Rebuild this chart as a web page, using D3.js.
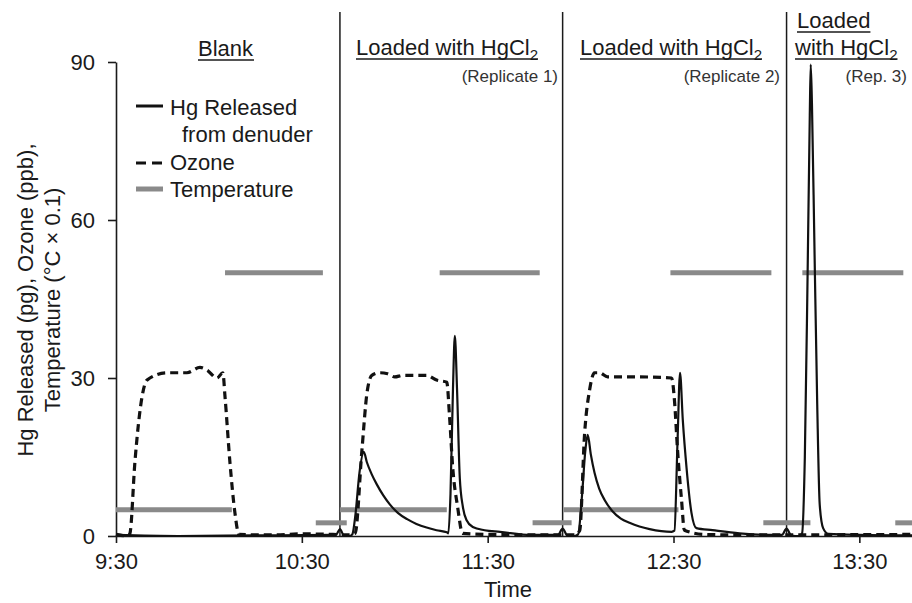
<!DOCTYPE html>
<html>
<head>
<meta charset="utf-8">
<script src="https://cdn.jsdelivr.net/npm/d3@7"></script>
<style>
  body { margin: 0; background: #fff; }
  svg text { font-family: "Liberation Sans", Arial, sans-serif; fill: #1a1a1a; }
</style>
</head>
<body>
<svg id="chart" width="912" height="603"></svg>
<script>
// время в минутах после 9:30
const hgSeries = [
    [0, 0.2], [20, 0], [45, 0.1], [70, 0.2], [71, 0.2], [72.3, 1.3], [73.6, 0.1], [75.5, 0],
    [76.3, 0.3], [77.3, 4], [78.6, 12], [80, 16], [81, 14], [82.5, 11.8], [84.2, 9.8],
    [86.3, 7.7], [88.4, 6], [91, 4.4], [94, 3.2], [97, 2.3], [100.3, 1.6], [103.5, 1.1],
    [106.8, 0.7], [107.3, 0.5], [108, 8], [108.8, 28], [109.4, 38], [110.1, 28], [111, 11],
    [112, 5.5], [113.2, 3], [115.2, 1.7], [119, 1.1], [124, 0.8], [134, 0.2], [142.7, 0.2],
    [144.2, 1.4], [145.7, 0.1], [148, 0], [149.2, 0.3], [150.5, 8], [151.5, 16], [152.3, 19.2],
    [153.3, 15.5], [154.5, 12], [156, 9], [157.8, 6.8], [160.3, 4.7], [163, 3.3], [165.8, 2.5],
    [169, 1.8], [172.3, 1.3], [179.4, 0.8], [180.3, 1], [181.3, 18], [182.1, 31], [183, 22],
    [184.2, 13], [185.8, 4.4], [187.4, 1.5], [192.6, 1.1], [201.3, 0.5], [211.9, 0.2],
    [215, 0.2], [216.5, 1.4], [218, 0.1], [220.5, 0], [221.5, 0.5], [222.4, 15], [223.3, 50],
    [224, 80], [224.3, 89.5], [224.7, 82], [225.5, 55], [226.4, 25], [227.2, 6], [228.3, 1.5],
    [230, 0.4], [240, 0.2], [257, 0.1]
];

const ozoneSeries = [
    [0, 0.3], [3.8, 0], [4.5, 0.5], [6.1, 14], [8.4, 26.4], [10, 29.6], [16.5, 31], [22.9, 31],
    [27.1, 32], [29.4, 31.5], [32.6, 30], [34.5, 31], [35.2, 26.4], [36.8, 13.9], [38.4, 4.4],
    [39.7, 0.3], [50, 0.2], [60, 0.4], [70, 0.3], [75, 0.2], [77.2, 0.5], [79.4, 16.3],
    [81, 27], [82.6, 30.5], [85.2, 31], [87.7, 30.8], [90, 30.2], [92.6, 30.5], [100.3, 30.5],
    [103.5, 29.6], [106.8, 29.2], [107.7, 22.6], [108.7, 13.1], [110.3, 5.5], [111.9, 0.5],
    [120, 0.3], [135, 0.2], [148, 0.2], [149.7, 1], [151.3, 19.5], [152.9, 27.7], [154.5, 31],
    [156.1, 31], [158.7, 30.2], [163.5, 30.2], [169, 30.2], [179.4, 30], [180.3, 25.8],
    [181.3, 16.3], [182.6, 6.8], [183.5, 1.1], [190, 0.3], [200, 0.2], [257, 0.3]
];

// отрезки температуры: начало, конец, значение
const tempSegments = [
    [0, 37.4, 5], [35.2, 66.8, 50], [64.5, 74.5, 2.5],
    [72.3, 106.8, 5], [104.5, 136.8, 50], [134.5, 147.1, 2.5],
    [144.5, 181.6, 5], [179, 211.6, 50], [209, 224.2, 2.5],
    [221.6, 254.2, 50], [251.6, 257, 2.5]
];

const dividers = [72.3, 144.2, 216.5];
const xTickLabels = ["9:30", "10:30", "11:30", "12:30", "13:30"];
const yTicks = [0, 30, 60, 90];

const svg = d3.select("#chart");
const start = new Date(2000, 0, 1, 9, 30);
const toDate = m => new Date(start.getTime() + m * 60000);
const parseClock = d3.timeParse("%H:%M");
const clockDate = s => { const t = parseClock(s); return new Date(2000, 0, 1, t.getHours(), t.getMinutes()); };

const x = d3.scaleTime().domain([start, toDate(257)]).range([116, 912]);
const y = d3.scaleLinear().domain([0, 90]).range([536, 62]);

// оси
const xAxis = svg.append("g")
    .attr("transform", "translate(0,536)")
    .call(d3.axisBottom(x)
        .tickValues(xTickLabels.map(clockDate))
        .tickFormat(d3.timeFormat("%-H:%M"))
        .tickSize(7).tickSizeOuter(0).tickPadding(10));
xAxis.selectAll("text").style("font-size", "22px").attr("dy", "0.71em");

const yAxis = svg.append("g")
    .attr("transform", "translate(116,0)")
    .call(d3.axisLeft(y).tickValues(yTicks).tickSize(8).tickSizeOuter(0).tickPadding(13));
yAxis.selectAll("text").style("font-size", "22px");
svg.selectAll(".domain, .tick line").attr("stroke", "#1a1a1a").attr("stroke-width", 1.6);

// разделители между опытами
svg.append("g").selectAll("line")
    .data(dividers)
    .enter().append("line")
    .attr("x1", d => x(toDate(d))).attr("x2", d => x(toDate(d)))
    .attr("y1", 12).attr("y2", 536)
    .attr("stroke", "#1a1a1a").attr("stroke-width", 1.5);

// температура
svg.append("g").selectAll("line")
    .data(tempSegments)
    .enter().append("line")
    .attr("x1", d => x(toDate(d[0]))).attr("x2", d => x(toDate(d[1])))
    .attr("y1", d => y(d[2])).attr("y2", d => y(d[2]))
    .attr("stroke", "#8a8a8a").attr("stroke-width", 5);

const line = d3.line().x(d => x(toDate(d[0]))).y(d => y(d[1])).curve(d3.curveMonotoneX);

svg.append("path")
    .datum(ozoneSeries)
    .attr("d", line)
    .attr("fill", "none").attr("stroke", "#111")
    .attr("stroke-width", 3.2).attr("stroke-dasharray", "8,5");

svg.append("path")
    .datum(hgSeries)
    .attr("d", line)
    .attr("fill", "none").attr("stroke", "#111")
    .attr("stroke-width", 2.2);

// легенда
const legend = svg.append("g");
legend.append("line").attr("x1", 136).attr("x2", 163).attr("y1", 106).attr("y2", 106)
    .attr("stroke", "#111").attr("stroke-width", 3);
legend.append("line").attr("x1", 136).attr("x2", 163).attr("y1", 163).attr("y2", 163)
    .attr("stroke", "#111").attr("stroke-width", 3).attr("stroke-dasharray", "10,6");
legend.append("line").attr("x1", 136).attr("x2", 163).attr("y1", 189).attr("y2", 189)
    .attr("stroke", "#8a8a8a").attr("stroke-width", 5);
[["Hg Released", 170, 115], ["from denuder", 182, 142], ["Ozone", 170, 170], ["Temperature", 170, 197]]
    .forEach(([t, tx, ty]) => legend.append("text").attr("x", tx).attr("y", ty)
        .style("font-size", "22px").text(t));

// заголовки с подчёркиванием
function title(tx, ty, main, sub) {
    const t = svg.append("text").attr("x", tx).attr("y", ty).style("font-size", "22px");
    t.append("tspan").text(main);
    if (sub) t.append("tspan").attr("dy", 5).style("font-size", "15px").text(sub);
    const b = t.node().getBBox();
    svg.append("line").attr("x1", tx).attr("x2", b.x + b.width)
        .attr("y1", ty + 4).attr("y2", ty + 4)
        .attr("stroke", "#1a1a1a").attr("stroke-width", 1.6);
}
title(198, 56, "Blank");
title(356, 55, "Loaded with HgCl", "2");
title(580, 55, "Loaded with HgCl", "2");
title(797, 28, "Loaded ");
title(795, 55, "with HgCl", "2");

[["(Replicate 1)", 558], ["(Replicate 2)", 780], ["(Rep. 3)", 907]]
    .forEach(([t, tx]) => svg.append("text").attr("x", tx).attr("y", 82)
        .attr("text-anchor", "end").style("font-size", "17px").style("fill", "#333").text(t));

// подписи осей
svg.append("text").attr("x", 508).attr("y", 597).attr("text-anchor", "middle")
    .style("font-size", "22px").text("Time");
const yl = svg.append("text").attr("transform", "translate(33,300) rotate(-90)")
    .attr("text-anchor", "middle").style("font-size", "22px");
yl.append("tspan").attr("x", 0).attr("y", 0).text("Hg Released (pg), Ozone (ppb),");
yl.append("tspan").attr("x", 0).attr("y", 27).text("Temperature (°C × 0.1)");
</script>
</body>
</html>
